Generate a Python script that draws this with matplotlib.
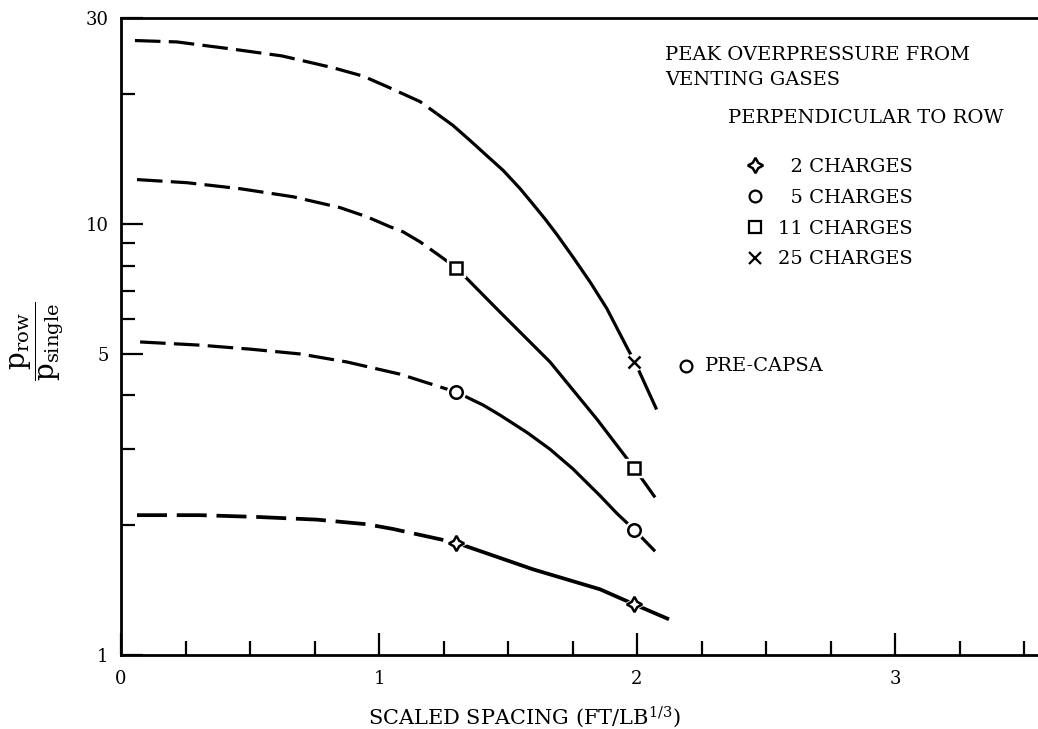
import matplotlib
matplotlib.use("Agg")
import matplotlib.pyplot as plt
from matplotlib.lines import Line2D

plt.rcParams['font.family'] = ['DejaVu Serif']
plt.rcParams['mathtext.fontset'] = 'dejavuserif'

# ---- data ----
# 25 charges
x25_dash = [0.054, 0.217, 0.434, 0.624, 0.822, 0.938, 1.031, 1.159, 1.224]
y25_dash = [26.6, 26.4, 25.4, 24.5, 23.0, 22.0, 20.8, 19.2, 18.0]
x25_solid = [1.224, 1.287, 1.353, 1.417, 1.481, 1.547, 1.597, 1.643, 1.689, 1.753,
             1.818, 1.883, 1.966, 1.992, 2.076]
y25_solid = [18.0, 16.9, 15.6, 14.4, 13.3, 12.06, 11.1, 10.27, 9.45, 8.35,
             7.33, 6.36, 5.10, 4.78, 3.71]
x25_pts = [1.99]
y25_pts = [4.78]

# 11 charges
x11_dash = [0.062, 0.256, 0.461, 0.667, 0.849, 0.953, 1.043, 1.093, 1.159, 1.224, 1.30]
y11_dash = [12.66, 12.45, 12.06, 11.55, 10.9, 10.38, 9.84, 9.58, 9.08, 8.52, 7.90]
x11_solid = [1.30, 1.469, 1.663, 1.845, 1.99, 2.070]
y11_solid = [7.90, 6.24, 4.78, 3.52, 2.71, 2.32]
x11_pts = [1.30, 1.99]
y11_pts = [7.90, 2.71]

# 5 charges
x5_dash = [0.074, 0.306, 0.50, 0.694, 0.876, 1.081, 1.30]
y5_dash = [5.32, 5.23, 5.12, 4.99, 4.78, 4.48, 4.07]
x5_solid = [1.30, 1.403, 1.469, 1.574, 1.663, 1.752, 1.857, 1.922, 1.99, 2.07]
y5_solid = [4.07, 3.80, 3.60, 3.28, 3.00, 2.70, 2.34, 2.13, 1.95, 1.74]
x5_pts = [1.30, 1.99]
y5_pts = [4.07, 1.95]

# 2 charges
x2_dash = [0.062, 0.306, 0.527, 0.76, 0.953, 1.054, 1.30]
y2_dash = [2.11, 2.11, 2.09, 2.06, 2.01, 1.96, 1.82]
x2_solid = [1.30, 1.597, 1.857, 1.99, 2.124]
y2_solid = [1.82, 1.58, 1.42, 1.31, 1.21]
x2_pts = [1.30, 1.99]
y2_pts = [1.82, 1.31]

# Pre-CAPSA point
xpre = [2.19]
ypre = [4.68]

legend_labels = ["  2 CHARGES", "  5 CHARGES", "11 CHARGES", "25 CHARGES"]
x_ticks = [0, 1, 2, 3]
x_minor = [0.25, 0.5, 0.75, 1.25, 1.5, 1.75, 2.25, 2.5, 2.75, 3.25, 3.5]
y_ticks = [1, 5, 10, 30]
y_minor = [2, 3, 4, 6, 7, 8, 9, 20]

# ---- figure ----
W, H = 1038, 729
fig = plt.figure(figsize=(W / 100, H / 100), dpi=100)
x0, x1, ytop, ybot = 121, 1037, 18, 655
ax = fig.add_axes([x0 / W, (H - ybot) / H, (x1 - x0) / W, (ybot - ytop) / H])
ax.set_yscale('log')
ax.set_xlim(0, (x1 - x0) / 258)
ax.set_ylim(1, 30)

lw = 2.3
dash = (0, (8, 2.6))
series = [
    (x25_dash, y25_dash, x25_solid, y25_solid, x25_pts, y25_pts, 'x', lw),
    (x11_dash, y11_dash, x11_solid, y11_solid, x11_pts, y11_pts, 's', lw),
    (x5_dash, y5_dash, x5_solid, y5_solid, x5_pts, y5_pts, 'o', lw),
    (x2_dash, y2_dash, x2_solid, y2_solid, x2_pts, y2_pts, (4, 1, 0), 2.7),
]
for xd, yd, xs, ys, xp, yp, mk, w in series:
    ax.plot(xd, yd, color='black', lw=w, linestyle=dash, solid_capstyle='butt',
            dash_capstyle='butt')
    ax.plot(xs, ys, color='black', lw=w, solid_capstyle='butt')
    if mk == 'x':
        ax.plot(xp, yp, linestyle='none', marker='o', ms=12, mfc='white', mec='white', zorder=3)
        ax.plot(xp, yp, linestyle='none', marker='x', ms=9, mew=1.8, color='black', zorder=4)
    else:
        ms = 11 if mk == (4, 1, 0) else 9
        ax.plot(xp, yp, linestyle='none', marker=mk, ms=ms + 4, mfc='white', mec='white', zorder=3)
        ax.plot(xp, yp, linestyle='none', marker=mk, ms=ms, mfc='white', mec='black',
                mew=1.8, zorder=4)

ax.plot(xpre, ypre, linestyle='none', marker='o', ms=8.5, mfc='white', mec='black', mew=1.6)
ax.annotate('PRE-CAPSA', xy=(xpre[0], ypre[0]), xytext=(13.5, 0), textcoords='offset points',
            va='center', ha='left', fontsize=14)

# spines & ticks
for s in ['left', 'bottom', 'top']:
    ax.spines[s].set_linewidth(2)
ax.spines['right'].set_visible(False)

ax.set_xticks(x_ticks, labels=[str(v) for v in x_ticks])
ax.set_xticks(x_minor, minor=True)
ax.set_yticks(y_ticks, labels=[str(v) for v in y_ticks])
ax.set_yticks(y_minor, minor=True)
ax.yaxis.set_minor_formatter(matplotlib.ticker.NullFormatter())
ax.tick_params(which='major', direction='in', length=16, width=1.6, labelsize=13,
               top=False, right=False)
ax.tick_params(which='minor', direction='in', length=10, width=1.6, top=False, right=False)
ax.tick_params(axis='x', which='major', pad=11)
ax.tick_params(axis='y', which='major', pad=9)

# labels
fig.text(524 / W, 1 - 717 / H, r'SCALED SPACING (FT/LB$^{1/3}$)', ha='center', va='center',
         fontsize=15)
fig.text(37 / W, 1 - 341 / H, r'$\dfrac{\mathrm{p_{row}}}{\mathrm{p_{single}}}$', rotation=90,
         ha='center', va='center', fontsize=20)

fig.text(665 / W, 1 - 55 / H, 'PEAK OVERPRESSURE FROM', ha='left', va='center', fontsize=14)
fig.text(665 / W, 1 - 80 / H, 'VENTING GASES', ha='left', va='center', fontsize=14)
fig.text(728 / W, 1 - 118 / H, 'PERPENDICULAR TO ROW', ha='left', va='center', fontsize=14)

handles = [
    Line2D([], [], linestyle='none', marker=(4, 1, 0), ms=11, mfc='white', mec='black', mew=1.8),
    Line2D([], [], linestyle='none', marker='o', ms=8.5, mfc='white', mec='black', mew=1.6),
    Line2D([], [], linestyle='none', marker='s', ms=8.5, mfc='white', mec='black', mew=1.6),
    Line2D([], [], linestyle='none', marker='x', ms=8, mew=1.6, color='black'),
]
leg = fig.legend(handles, legend_labels, loc='upper left',
                 bbox_to_anchor=(747 / W, 1 - 158 / H), bbox_transform=fig.transFigure,
                 frameon=False, fontsize=14, handlelength=0.8, handletextpad=0.8,
                 labelspacing=0.66, borderpad=0, borderaxespad=0)

fig.savefig('out.png', dpi=100)
